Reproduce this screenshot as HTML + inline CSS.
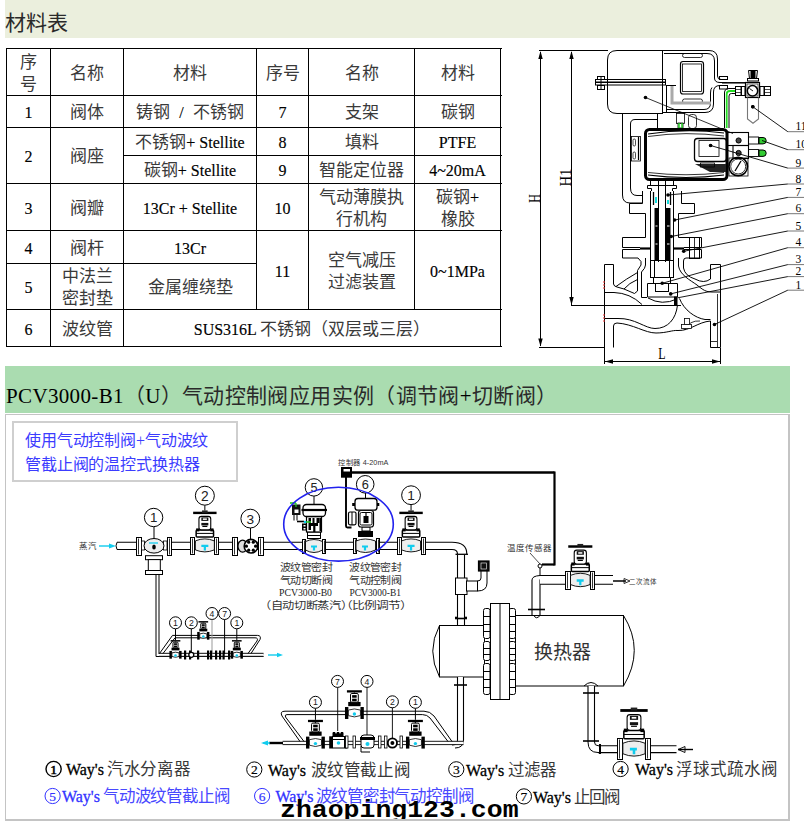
<!DOCTYPE html>
<html lang="zh-CN"><head><meta charset="utf-8">
<style>
*{margin:0;padding:0;box-sizing:border-box}
html,body{width:804px;height:830px;background:#fff;overflow:hidden}
body{position:relative;font-family:"Liberation Serif",serif;color:#000}
.a{position:absolute}
.bar1{left:5px;top:0;width:785px;height:38px;background:#ebefdd}
.zt{font-weight:normal;color:#2a2a2a}
.bar1 span{color:#2a2a2a;position:absolute;left:0px;top:10.5px;font-size:21px;line-height:24px}
.hl{position:absolute;height:1px;background:#000}
.vl{position:absolute;width:1px;background:#000}
.c{position:absolute;display:flex;align-items:center;justify-content:center;text-align:center;font-size:16px;line-height:22px;padding-top:3px;-webkit-text-stroke:0.15px #000}
.z{font-size:17px;color:#3a3a3a;-webkit-text-stroke:0}
.bar2{left:5px;top:366px;width:785px;height:47px;background:#aadcb0}
.bar2 span{position:absolute;left:1px;top:18px;font-size:21px;line-height:24px;white-space:nowrap;letter-spacing:0.35px}
.box{left:5px;top:414px;width:785px;height:407px;border:1px solid #c4c4c4;border-right-width:2px;border-bottom-width:2px;overflow:hidden}
.ibox{left:12px;top:421px;width:226px;height:61px;border:2px solid #cfcfcf}
.ibox div{position:absolute;left:11px;font-size:16px;color:#3c3cff;letter-spacing:-0.15px;white-space:nowrap;line-height:20px}
.lg{position:absolute;font-size:16px;white-space:nowrap;line-height:20px}
.wm{position:absolute;z-index:5;left:274px;top:381.7px;transform:scaleY(0.9);transform-origin:0 0;font-family:"Liberation Mono",monospace;font-weight:bold;font-size:26.5px;line-height:30px;white-space:nowrap;color:#000}
</style></head><body>
<div class="a bar1"><span>材料表</span></div>

<div class="c" style="left:6px;top:48px;width:45px;height:48px"><div><span class="z">序</span><br><span class="z">号</span></div></div>
<div class="c" style="left:50px;top:48px;width:74px;height:48px"><div><span class="z">名称</span></div></div>
<div class="c" style="left:123px;top:48px;width:134px;height:48px"><div><span class="z">材料</span></div></div>
<div class="c" style="left:256px;top:48px;width:53px;height:48px"><div><span class="z">序号</span></div></div>
<div class="c" style="left:308px;top:48px;width:107px;height:48px"><div><span class="z">名称</span></div></div>
<div class="c" style="left:414px;top:48px;width:87px;height:48px"><div><span class="z">材料</span></div></div>
<div class="c" style="left:6px;top:95px;width:45px;height:33px"><div>1</div></div>
<div class="c" style="left:50px;top:95px;width:74px;height:33px"><div><span class="z">阀体</span></div></div>
<div class="c" style="left:123px;top:95px;width:134px;height:33px"><div><span class="z">铸钢</span><span style="display:inline-block;width:23px">/</span><span class="z">不锈钢</span></div></div>
<div class="c" style="left:256px;top:95px;width:53px;height:33px"><div>7</div></div>
<div class="c" style="left:308px;top:95px;width:107px;height:33px"><div><span class="z">支架</span></div></div>
<div class="c" style="left:414px;top:95px;width:87px;height:33px"><div><span class="z">碳钢</span></div></div>
<div class="c" style="left:6px;top:127px;width:45px;height:57px"><div>2</div></div>
<div class="c" style="left:50px;top:127px;width:74px;height:57px"><div><span class="z">阀座</span></div></div>
<div class="c" style="left:123px;top:127px;width:134px;height:29px"><div><span class="z">不锈钢</span>+ Stellite</div></div>
<div class="c" style="left:256px;top:127px;width:53px;height:29px"><div>8</div></div>
<div class="c" style="left:308px;top:127px;width:107px;height:29px"><div><span class="z">填料</span></div></div>
<div class="c" style="left:414px;top:127px;width:87px;height:29px"><div>PTFE</div></div>
<div class="c" style="left:123px;top:155px;width:134px;height:29px"><div><span class="z">碳钢</span>+ Stellite</div></div>
<div class="c" style="left:256px;top:155px;width:53px;height:29px"><div>9</div></div>
<div class="c" style="left:308px;top:155px;width:107px;height:29px"><div><span class="z">智能定位器</span></div></div>
<div class="c" style="left:414px;top:155px;width:87px;height:29px"><div>4~20mA</div></div>
<div class="c" style="left:6px;top:183px;width:45px;height:48px"><div>3</div></div>
<div class="c" style="left:50px;top:183px;width:74px;height:48px"><div><span class="z">阀瓣</span></div></div>
<div class="c" style="left:123px;top:183px;width:134px;height:48px"><div>13Cr + Stellite</div></div>
<div class="c" style="left:256px;top:183px;width:53px;height:48px"><div>10</div></div>
<div class="c" style="left:308px;top:183px;width:107px;height:48px"><div><span class="z">气动薄膜执</span><br><span class="z">行机构</span></div></div>
<div class="c" style="left:414px;top:183px;width:87px;height:48px"><div><span class="z">碳钢</span>+<br><span class="z">橡胶</span></div></div>
<div class="c" style="left:6px;top:230px;width:45px;height:34px"><div>4</div></div>
<div class="c" style="left:50px;top:230px;width:74px;height:34px"><div><span class="z">阀杆</span></div></div>
<div class="c" style="left:123px;top:230px;width:134px;height:34px"><div>13Cr</div></div>
<div class="c" style="left:256px;top:230px;width:53px;height:80px"><div>11</div></div>
<div class="c" style="left:308px;top:230px;width:107px;height:80px"><div><span class="z">空气减压</span><br><span class="z">过滤装置</span></div></div>
<div class="c" style="left:414px;top:230px;width:87px;height:80px"><div>0~1MPa</div></div>
<div class="c" style="left:6px;top:263px;width:45px;height:47px"><div>5</div></div>
<div class="c" style="left:50px;top:263px;width:74px;height:47px"><div><span class="z">中法兰</span><br><span class="z">密封垫</span></div></div>
<div class="c" style="left:123px;top:263px;width:134px;height:47px"><div><span class="z">金属缠绕垫</span></div></div>
<div class="c" style="left:6px;top:309px;width:45px;height:38px"><div>6</div></div>
<div class="c" style="left:50px;top:309px;width:74px;height:38px"><div><span class="z">波纹管</span></div></div>
<div class="c" style="left:123px;top:309px;width:378px;height:38px"><div>SUS316L <span class="z">不锈钢（双层或三层）</span></div></div>
<div class="hl" style="left:6px;top:48px;width:496px"></div>
<div class="hl" style="left:6px;top:95px;width:496px"></div>
<div class="hl" style="left:6px;top:127px;width:496px"></div>
<div class="hl" style="left:123px;top:155px;width:379px"></div>
<div class="hl" style="left:6px;top:183px;width:496px"></div>
<div class="hl" style="left:6px;top:230px;width:496px"></div>
<div class="hl" style="left:6px;top:263px;width:251px"></div>
<div class="hl" style="left:6px;top:309px;width:496px"></div>
<div class="hl" style="left:6px;top:346px;width:496px"></div>
<div class="vl" style="left:6px;top:48px;height:299px"></div>
<div class="vl" style="left:50px;top:48px;height:299px"></div>
<div class="vl" style="left:123px;top:48px;height:299px"></div>
<div class="vl" style="left:256px;top:48px;height:262px"></div>
<div class="vl" style="left:308px;top:48px;height:262px"></div>
<div class="vl" style="left:414px;top:48px;height:262px"></div>
<div class="vl" style="left:500px;top:48px;height:299px"></div>
<div class="a bar2"><span>PCV3000-B1<b class="zt">（</b>U<b class="zt">）气动控制阀应用实例（调节阀</b>+<b class="zt">切断阀）</b></span></div>
<div class="a box"><div class="wm">zhaoping123.com</div></div>
<div class="a ibox"><div style="top:7.5px">使用气动控制阀+气动波纹</div><div style="top:32px">管截止阀的温控式换热器</div></div>
<svg class="a" style="left:0;top:0" width="804" height="830" viewBox="0 0 804 830"><line x1="539" y1="50.5" x2="608" y2="50.5" stroke="#000" stroke-width="1" />
<line x1="540.5" y1="52" x2="540.5" y2="346" stroke="#000" stroke-width="1" />
<path d="M540.5,51 L542.70,59.00 L538.30,59.00Z" fill="#000"/>
<path d="M540.5,346.5 L538.30,338.50 L542.70,338.50Z" fill="#000"/>
<line x1="571.5" y1="52" x2="571.5" y2="305" stroke="#000" stroke-width="1" />
<path d="M571.5,51 L573.70,59.00 L569.30,59.00Z" fill="#000"/>
<path d="M571.5,305 L569.30,297.00 L573.70,297.00Z" fill="#000"/>
<line x1="571" y1="305.5" x2="681" y2="305.5" stroke="#000" stroke-width="1" />
<line x1="539" y1="347.5" x2="605" y2="347.5" stroke="#000" stroke-width="1" />
<line x1="604.5" y1="348" x2="604.5" y2="364" stroke="#000" stroke-width="1" />
<line x1="720.5" y1="348" x2="720.5" y2="364" stroke="#000" stroke-width="1" />
<line x1="605" y1="361.5" x2="720" y2="361.5" stroke="#000" stroke-width="1" />
<path d="M605,361.5 L613.00,359.30 L613.00,363.70Z" fill="#000"/>
<path d="M720,361.5 L712.00,363.70 L712.00,359.30Z" fill="#000"/>
<text x="0" y="0" font-family="Liberation Serif" font-size="16" text-anchor="middle" fill="#000" transform="translate(539.5,198.5) rotate(-90) scale(0.75,1)">H</text>
<text x="0" y="0" font-family="Liberation Serif" font-size="16" text-anchor="middle" fill="#000" transform="translate(570.5,177.6) rotate(-90) scale(0.92,1)">H1</text>
<text x="662" y="359.5" font-family="Liberation Serif" font-size="16" text-anchor="middle" fill="#000" transform="translate(165.5,0) scale(0.75,1)">L</text>
<path d="M662,50.5 H617 Q607.5,50.5 607.5,60 V104 Q607.5,113.5 617,113.5 H662" stroke="#000" stroke-width="1" fill="none" />
<line x1="662.5" y1="50" x2="662.5" y2="114" stroke="#000" stroke-width="1" />
<rect x="595.5" y="79.5" width="70" height="2.5" stroke="#000" stroke-width="1" fill="none" rx="0" />
<rect x="595.5" y="82.5" width="70" height="2.5" stroke="#000" stroke-width="1" fill="none" rx="0" />
<rect x="597.5" y="76.5" width="7" height="3" stroke="#000" stroke-width="1" fill="none" rx="0" />
<rect x="597.5" y="85.5" width="7" height="4" stroke="#000" stroke-width="1" fill="none" rx="0" />
<line x1="601" y1="76" x2="601" y2="90" stroke="#000" stroke-width="1" />
<path d="M662,50.5 H709 Q717.5,50.5 717.5,59 V76 Q717.5,79.5 721,79.5 H727 M727,85.5 H720 Q713.5,85.5 713.5,92 V104 Q713.5,112.5 705,112.5 H662" stroke="#000" stroke-width="1" fill="none" />
<path d="M664,53.5 H707 Q714.5,53.5 714.5,61 V78 Q714.5,82.5 720,82.5 H727 M712,87.5 Q710.5,89 710.5,93 V103 Q710.5,109.5 704,109.5 H666" stroke="#000" stroke-width="1" fill="none" />
<rect x="719.5" y="76.5" width="8" height="3" stroke="#000" stroke-width="1" fill="none" rx="0" />
<rect x="719.5" y="85.5" width="8" height="3.5" stroke="#000" stroke-width="1" fill="none" rx="0" />
<rect x="680.5" y="61.5" width="23" height="32.5" stroke="#000" stroke-width="1.2" fill="none" rx="2.5" />
<rect x="682.5" y="64" width="19" height="27.5" stroke="#000" stroke-width="0.8" fill="none" rx="0" />
<rect x="682.5" y="53.5" width="20" height="4" stroke="#000" stroke-width="0.8" fill="none" rx="2" />
<rect x="682.5" y="99" width="20" height="4" stroke="#000" stroke-width="0.8" fill="none" rx="2" />
<path d="M672,86 V103 H711" stroke="#aaa" stroke-width="3" fill="none" />
<line x1="666" y1="85.5" x2="676" y2="85.5" stroke="#000" stroke-width="1" />
<line x1="666.5" y1="86" x2="666.5" y2="112" stroke="#000" stroke-width="1" />
<circle cx="645.5" cy="97.5" r="1.8" stroke="#000" stroke-width="0" fill="#000"/>
<line x1="645.5" y1="97.5" x2="733" y2="133.5" stroke="#000" stroke-width="0.8" />
<path d="M622.5,113.5 V195 Q622.5,203 630,203 H642" stroke="#000" stroke-width="1" fill="none" />
<path d="M635,119.5 H657.5 M630.5,124 Q630.5,119.5 635,119.5 M630.5,124 V188 Q630.5,195.5 637,195.5 H642.5" stroke="#000" stroke-width="1" fill="none" />
<line x1="657.5" y1="113.5" x2="657.5" y2="128" stroke="#000" stroke-width="1" />
<rect x="676.5" y="113.5" width="8" height="10" stroke="#000" stroke-width="0.8" fill="none" rx="0" />
<rect x="678" y="123" width="5" height="5" stroke="#000" stroke-width="0.8" fill="none" rx="0" />
<line x1="679" y1="123" x2="679" y2="128" stroke="#2c2" stroke-width="1.5" />
<line x1="682" y1="123" x2="682" y2="128" stroke="#2c2" stroke-width="1.5" />
<rect x="688.5" y="114.5" width="8" height="14" stroke="#000" stroke-width="0.8" fill="none" rx="3" />
<rect x="631.5" y="136.5" width="9" height="24.5" stroke="#000" stroke-width="0.8" fill="none" rx="0" />
<rect x="633" y="139" width="2.5" height="7" stroke="#000" stroke-width="0.7" fill="none" rx="1.2" />
<rect x="633" y="152" width="2.5" height="7" stroke="#000" stroke-width="0.7" fill="none" rx="1.2" />
<line x1="638.5" y1="137" x2="638.5" y2="160" stroke="#000" stroke-width="1.2" />
<rect x="645.5" y="129.5" width="81.5" height="50" stroke="#000" stroke-width="3" fill="none" rx="4" />
<path d="M648,134 Q686,128 724,133" stroke="#000" stroke-width="1.2" fill="none" />
<path d="M648,175 Q686,180 724,175" stroke="#000" stroke-width="1.2" fill="none" />
<path d="M648,136.5 Q686,131 724,136" stroke="#000" stroke-width="0.8" fill="none" />
<path d="M648,172.5 Q686,177 724,172.5" stroke="#000" stroke-width="0.8" fill="none" />
<rect x="694.5" y="138.5" width="32" height="23" stroke="#000" stroke-width="1.3" fill="none" rx="3" />
<rect x="699" y="140.5" width="20" height="16" stroke="#000" stroke-width="0.8" fill="none" rx="0" />
<circle cx="710.6" cy="145.5" r="1.6" stroke="#000" stroke-width="0" fill="#000"/>
<path d="M695,164 L726,164 L726,172 L710,172 Z" stroke="#000" stroke-width="0" fill="#222" />
<rect x="700.5" y="163" width="14" height="4" stroke="#000" stroke-width="0.8" fill="none" rx="0" />
<rect x="727.5" y="132.5" width="21" height="13" stroke="#000" stroke-width="1.1" fill="none" rx="0" />
<rect x="733" y="145.5" width="15.5" height="13" stroke="#000" stroke-width="1.1" fill="none" rx="0" />
<circle cx="738.6" cy="140.5" r="2.6" stroke="#000" stroke-width="1" fill="#444"/>
<circle cx="738.6" cy="153" r="2.6" stroke="#000" stroke-width="1" fill="#444"/>
<rect x="748.5" y="137" width="10" height="7" stroke="#000" stroke-width="0.9" fill="none" rx="0" />
<rect x="748.5" y="149.5" width="10" height="7" stroke="#000" stroke-width="0.9" fill="none" rx="0" />
<path d="M759,137.5 h4 a3.2,3.2 0 0 1 0,6.4 h-4 z" stroke="#000" stroke-width="1" fill="#3c3" />
<path d="M759,150 h4 a3.2,3.2 0 0 1 0,6.4 h-4 z" stroke="#000" stroke-width="1" fill="#3c3" />
<circle cx="738.2" cy="166.5" r="9.3" stroke="#000" stroke-width="1.6" fill="none"/>
<circle cx="738.2" cy="166.5" r="7.5" stroke="#000" stroke-width="0.8" fill="none"/>
<line x1="735" y1="171" x2="741" y2="161" stroke="#000" stroke-width="1.3" />
<rect x="729" y="158" width="19" height="18" stroke="#000" stroke-width="0.8" fill="none" rx="0" />
<path d="M724.5,128 V93 Q724.5,88.5 729,88.5 H735.5" stroke="#000" stroke-width="1" fill="none" />
<path d="M729,128 V96 Q729,93.5 731.5,93.5 H735.5" stroke="#000" stroke-width="1" fill="none" />
<path d="M726.7,128 V94 Q726.7,91 730,91 H735.5" stroke="#2d2" stroke-width="1.8" fill="none" />
<line x1="722" y1="82.8" x2="746" y2="82.8" stroke="#000" stroke-width="1.5" />
<rect x="735.5" y="86.5" width="5.5" height="9" stroke="#000" stroke-width="1" fill="#fff" rx="0" />
<line x1="735.5" y1="89.5" x2="741" y2="89.5" stroke="#000" stroke-width="0.7" />
<line x1="735.5" y1="92.5" x2="741" y2="92.5" stroke="#000" stroke-width="0.7" />
<rect x="741.5" y="86.5" width="3.5" height="9" stroke="#000" stroke-width="1" fill="#fff" rx="0" />
<rect x="745.5" y="82.5" width="14" height="15" stroke="#000" stroke-width="1.2" fill="#fff" rx="0" />
<rect x="747" y="84" width="11" height="12" stroke="#000" stroke-width="0.6" fill="none" rx="0" />
<circle cx="752.5" cy="90.8" r="5.2" stroke="#000" stroke-width="1.5" fill="#fff"/>
<line x1="749.5" y1="88.5" x2="753" y2="91" stroke="#000" stroke-width="0.9" />
<rect x="760" y="86.5" width="4" height="9" stroke="#000" stroke-width="1" fill="#fff" rx="0" />
<rect x="764.5" y="86.5" width="6" height="9" stroke="#000" stroke-width="1" fill="#fff" rx="0" />
<line x1="764.5" y1="89.5" x2="770.5" y2="89.5" stroke="#000" stroke-width="0.7" />
<line x1="764.5" y1="92.5" x2="770.5" y2="92.5" stroke="#000" stroke-width="0.7" />
<path d="M748.5,70.5 H757.5 L756.5,78.5 H749.5 Z" stroke="#000" stroke-width="1" fill="#fff" />
<rect x="750.5" y="70.5" width="5" height="8" stroke="#000" stroke-width="0" fill="#000" rx="0" />
<rect x="747.5" y="78.5" width="11" height="2.5" stroke="#000" stroke-width="1" fill="#fff" rx="0" />
<path d="M747.5,97.6 V119 L753,123.3 L758.5,119 V97.6" stroke="#777" stroke-width="1.1" fill="none" />
<circle cx="752.8" cy="106.8" r="1.7" stroke="#000" stroke-width="0" fill="#000"/>
<path d="M647.5,185.5 H676.5 V188.5 H672.5 V191 M647.5,185.5 V188.5 H651.5 V191" stroke="#000" stroke-width="1" fill="none" />
<line x1="650.5" y1="180" x2="650.5" y2="185" stroke="#000" stroke-width="1" />
<line x1="673.5" y1="180" x2="673.5" y2="185" stroke="#000" stroke-width="1" />
<line x1="658.5" y1="180" x2="658.5" y2="262" stroke="#000" stroke-width="1" />
<line x1="665.5" y1="180" x2="665.5" y2="262" stroke="#000" stroke-width="1" />
<path d="M642.5,191 L642.5,203.5 L629.5,203.5 L629.5,213.5 L645.5,213.5 L645.5,237.5 L622.5,237.5 L622.5,247.5 L640,247.5" stroke="#000" stroke-width="1" fill="none" />
<path d="M681.5,191 L681.5,203.5 L694.5,203.5 L694.5,213.5 L678.5,213.5 L678.5,237.5 L701.5,237.5 L701.5,247.5 L684,247.5" stroke="#000" stroke-width="1" fill="none" />
<path d="M640,249.5 L622.5,249.5 L622.5,258 L638,258 L641,261.5 L641,265 L637.5,270.5 L637.5,291 L634.5,293.5 L624,289" stroke="#000" stroke-width="1" fill="none" />
<path d="M684,249.5 H701.5 V258 H686 Q683.5,258 683.5,261 V268 Q685,276 695,279 Q704,284 710.5,279" stroke="#000" stroke-width="1" fill="none" />
<line x1="640" y1="248.5" x2="650" y2="248.5" stroke="#000" stroke-width="2.2" />
<line x1="674" y1="248.5" x2="684" y2="248.5" stroke="#000" stroke-width="2.2" />
<rect x="689.5" y="237.5" width="10" height="21" stroke="#000" stroke-width="1" fill="none" rx="0" />
<line x1="694.5" y1="237.5" x2="694.5" y2="258.5" stroke="#000" stroke-width="0.8" />
<line x1="689.5" y1="247.5" x2="699.5" y2="247.5" stroke="#000" stroke-width="1" />
<line x1="650.5" y1="191" x2="650.5" y2="262" stroke="#000" stroke-width="1" />
<line x1="673.5" y1="191" x2="673.5" y2="262" stroke="#000" stroke-width="1" />
<rect x="654.5" y="208" width="4" height="52" stroke="#000" stroke-width="0" fill="#000" rx="0" />
<rect x="666" y="208" width="4.5" height="52" stroke="#000" stroke-width="0" fill="#000" rx="0" />
<line x1="655.5" y1="226" x2="657.5" y2="226" stroke="#fff" stroke-width="1" />
<line x1="667" y1="226" x2="669.5" y2="226" stroke="#fff" stroke-width="1" />
<line x1="655.5" y1="244" x2="657.5" y2="244" stroke="#fff" stroke-width="1" />
<line x1="667" y1="244" x2="669.5" y2="244" stroke="#fff" stroke-width="1" />
<rect x="655" y="197" width="2" height="6" stroke="#000" stroke-width="0" fill="#1dd" rx="0" />
<rect x="667" y="200" width="2" height="4" stroke="#000" stroke-width="0" fill="#1dd" rx="0" />
<line x1="653.5" y1="192" x2="653.5" y2="205" stroke="#000" stroke-width="1.3" />
<line x1="670.5" y1="192" x2="670.5" y2="205" stroke="#000" stroke-width="1.3" />
<path d="M645.5,258 V265 Q645.5,268 641.5,272 V297.5 H647" stroke="#000" stroke-width="1" fill="none" />
<path d="M678.5,258 V266 C680,275 690,280 697,285 C703,290 706,292 712,292 H720" stroke="#000" stroke-width="1" fill="none" />
<rect x="650.5" y="260.5" width="23" height="17" stroke="#000" stroke-width="1" fill="none" rx="0" />
<line x1="654.5" y1="260.5" x2="654.5" y2="277" stroke="#000" stroke-width="1" />
<line x1="669.5" y1="260.5" x2="669.5" y2="277" stroke="#000" stroke-width="1" />
<rect x="653.5" y="277.5" width="17" height="6" stroke="#000" stroke-width="1" fill="none" rx="0" />
<path d="M647.5,283.5 H677.5 V297 H647.5 Z" stroke="#000" stroke-width="1" fill="none" />
<rect x="655.5" y="283.5" width="13" height="8" stroke="#000" stroke-width="1" fill="none" rx="0" />
<rect x="674" y="296.5" width="3.5" height="9.5" stroke="#000" stroke-width="0" fill="#000" rx="0" />
<path d="M648,298 Q662,306 677,299" stroke="#000" stroke-width="1" fill="none" />
<path d="M604.5,347.5 V264.5 H613.5 V284 Q614,286.5 617,287 L624,289" stroke="#000" stroke-width="1" fill="none" />
<path d="M616,286.5 Q626,279 637.5,272.5" stroke="#000" stroke-width="1" fill="none" />
<path d="M624,289 Q629,283 637.5,279.5" stroke="#000" stroke-width="1" fill="none" />
<path d="M604.5,292.5 H614 Q630,293 642,304.5" stroke="#000" stroke-width="1" fill="none" />
<path d="M604.5,318.5 H618 C635,318 645,328.5 655,328.5 C668,328.5 676,319 677.5,305" stroke="#000" stroke-width="1" fill="none" />
<path d="M613.5,347.5 V326 Q613.5,323 617,323 C633,324 645,333 656,333 C667,333 672,330 678,330.5 C690,331 698,322 710.5,321" stroke="#000" stroke-width="1" fill="none" />
<path d="M679.5,298.5 C684,310 695,318 705,319.5 H710.5" stroke="#000" stroke-width="1" fill="none" />
<path d="M684,330 Q690,320 700,321" stroke="#000" stroke-width="0.8" fill="none" />
<rect x="684.5" y="318.5" width="5" height="6" stroke="#000" stroke-width="0.8" fill="#fff" rx="0" />
<rect x="681.5" y="324.5" width="10" height="4" stroke="#000" stroke-width="0.8" fill="#fff" rx="0" />
<path d="M710.5,279 V264.5 H720.5 V347.5 H710.5 V321" stroke="#000" stroke-width="1" fill="none" />
<line x1="717.5" y1="294" x2="717.5" y2="347" stroke="#000" stroke-width="0.8" />
<line x1="711" y1="341.5" x2="717" y2="341.5" stroke="#000" stroke-width="0.8" />
<line x1="603" y1="282" x2="605" y2="282" stroke="#e33" stroke-width="1" />
<line x1="603" y1="285" x2="605" y2="285" stroke="#e33" stroke-width="1" />
<line x1="603" y1="288" x2="605" y2="288" stroke="#e33" stroke-width="1" />
<line x1="603" y1="315" x2="605" y2="315" stroke="#e33" stroke-width="1" />
<line x1="603" y1="318" x2="605" y2="318" stroke="#e33" stroke-width="1" />
<line x1="603" y1="321" x2="605" y2="321" stroke="#e33" stroke-width="1" />
<line x1="787.8" y1="131.7" x2="804" y2="131.7" stroke="#777" stroke-width="1" />
<line x1="752.8" y1="106.8" x2="787.8" y2="131.7" stroke="#000" stroke-width="0.9" />
<text x="795.5" y="130.2" font-family="Liberation Serif" font-size="11.5" text-anchor="start" fill="#000" >11</text>
<line x1="787.8" y1="149.7" x2="804" y2="149.7" stroke="#777" stroke-width="1" />
<line x1="762" y1="140.5" x2="787.8" y2="149.7" stroke="#000" stroke-width="0.9" />
<text x="795.5" y="148.2" font-family="Liberation Serif" font-size="11.5" text-anchor="start" fill="#000" >10</text>
<line x1="787.8" y1="168.1" x2="804" y2="168.1" stroke="#777" stroke-width="1" />
<line x1="710.6" y1="145.5" x2="787.8" y2="168.1" stroke="#000" stroke-width="0.9" />
<text x="795.5" y="166.6" font-family="Liberation Serif" font-size="11.5" text-anchor="start" fill="#000" >9</text>
<line x1="787.8" y1="184" x2="804" y2="184" stroke="#777" stroke-width="1" />
<line x1="668" y1="195" x2="787.8" y2="184" stroke="#000" stroke-width="0.9" />
<text x="795.5" y="182.5" font-family="Liberation Serif" font-size="11.5" text-anchor="start" fill="#000" >8</text>
<line x1="787.8" y1="197.4" x2="804" y2="197.4" stroke="#777" stroke-width="1" />
<line x1="674.6" y1="220" x2="787.8" y2="197.4" stroke="#000" stroke-width="0.9" />
<text x="795.5" y="195.9" font-family="Liberation Serif" font-size="11.5" text-anchor="start" fill="#000" >7</text>
<line x1="787.8" y1="213.7" x2="804" y2="213.7" stroke="#777" stroke-width="1" />
<line x1="671.2" y1="236.5" x2="787.8" y2="213.7" stroke="#000" stroke-width="0.9" />
<text x="795.5" y="212.2" font-family="Liberation Serif" font-size="11.5" text-anchor="start" fill="#000" >6</text>
<line x1="787.8" y1="231" x2="804" y2="231" stroke="#777" stroke-width="1" />
<line x1="683.7" y1="251.3" x2="787.8" y2="231" stroke="#000" stroke-width="0.9" />
<text x="795.5" y="229.5" font-family="Liberation Serif" font-size="11.5" text-anchor="start" fill="#000" >5</text>
<line x1="787.8" y1="247.7" x2="804" y2="247.7" stroke="#777" stroke-width="1" />
<line x1="662.2" y1="283.3" x2="787.8" y2="247.7" stroke="#000" stroke-width="0.9" />
<text x="795.5" y="246.2" font-family="Liberation Serif" font-size="11.5" text-anchor="start" fill="#000" >4</text>
<line x1="787.8" y1="264.6" x2="804" y2="264.6" stroke="#777" stroke-width="1" />
<line x1="670.7" y1="293.9" x2="787.8" y2="264.6" stroke="#000" stroke-width="0.9" />
<text x="795.5" y="263.1" font-family="Liberation Serif" font-size="11.5" text-anchor="start" fill="#000" >3</text>
<line x1="787.8" y1="276.6" x2="804" y2="276.6" stroke="#777" stroke-width="1" />
<line x1="677.7" y1="297.8" x2="787.8" y2="276.6" stroke="#000" stroke-width="0.9" />
<text x="795.5" y="275.1" font-family="Liberation Serif" font-size="11.5" text-anchor="start" fill="#000" >2</text>
<line x1="787.8" y1="290.2" x2="804" y2="290.2" stroke="#777" stroke-width="1" />
<line x1="714.5" y1="324.5" x2="787.8" y2="290.2" stroke="#000" stroke-width="0.9" />
<text x="795.5" y="288.7" font-family="Liberation Serif" font-size="11.5" text-anchor="start" fill="#000" >1</text>
<circle cx="752.8" cy="106.8" r="1.8" stroke="#000" stroke-width="0" fill="#000"/>
<circle cx="710.6" cy="145.5" r="1.8" stroke="#000" stroke-width="0" fill="#000"/>
<circle cx="668" cy="195" r="1.8" stroke="#000" stroke-width="0" fill="#000"/>
<circle cx="674.6" cy="220" r="1.8" stroke="#000" stroke-width="0" fill="#000"/>
<circle cx="671.2" cy="236.5" r="1.8" stroke="#000" stroke-width="0" fill="#000"/>
<circle cx="683.7" cy="251.3" r="1.8" stroke="#000" stroke-width="0" fill="#000"/>
<circle cx="662.2" cy="283.3" r="1.8" stroke="#000" stroke-width="0" fill="#000"/>
<circle cx="670.7" cy="293.9" r="1.8" stroke="#000" stroke-width="0" fill="#000"/>
<circle cx="714.5" cy="324.5" r="1.8" stroke="#000" stroke-width="0" fill="#000"/>
<rect x="341" y="467" width="11" height="10.7" stroke="#000" stroke-width="0" fill="#000" rx="0" />
<rect x="343.5" y="469" width="6.5" height="2.5" stroke="#000" stroke-width="0" fill="#fff" rx="0" />
<text x="338.3" y="464.8" font-family="Liberation Sans" font-size="6.8" text-anchor="start" fill="#333" textLength="50" lengthAdjust="spacingAndGlyphs">控制器 4-20mA</text>
<line x1="352" y1="472.5" x2="554.5" y2="472.5" stroke="#000" stroke-width="2.3" />
<line x1="554.5" y1="471.5" x2="554.5" y2="565.5" stroke="#000" stroke-width="2.2" />
<line x1="554.5" y1="564.5" x2="542" y2="564.5" stroke="#000" stroke-width="2.2" />
<path d="M346,477 V526 Q346,527.5 347.5,527.5 H351.5" stroke="#000" stroke-width="1.9" fill="none" />
<rect x="117" y="542.3" width="335" height="7.2000000000000455" fill="#fff"/>
<line x1="117" y1="542.3" x2="452" y2="542.3" stroke="#000" stroke-width="1.1" />
<line x1="117" y1="549.5" x2="452" y2="549.5" stroke="#000" stroke-width="1.1" />
<path d="M117,542.3 q-2,3.5 0,7.2" stroke="#000" fill="none" stroke-width="1"/>
<line x1="99" y1="546" x2="111" y2="546" stroke="#1ce" stroke-width="1.4" />
<path d="M116,546 L109,543.5 L109,548.5Z" fill="#1ce"/>
<text x="88" y="549" font-family="Liberation Sans" font-size="8.5" text-anchor="middle" fill="#333" >蒸汽</text>
<rect x="136.5" y="537.5" width="5" height="18" stroke="#000" stroke-width="1" fill="#fff" rx="0" />
<line x1="138.5" y1="538.5" x2="138.5" y2="554.5" stroke="#000" stroke-width="0.8" />
<rect x="167.5" y="537.5" width="4" height="18" stroke="#000" stroke-width="1" fill="#fff" rx="0" />
<line x1="169.5" y1="538.5" x2="169.5" y2="554.5" stroke="#000" stroke-width="0.8" />
<rect x="141.5" y="541" width="3" height="9" stroke="#000" stroke-width="0.8" fill="#fff" rx="0" />
<rect x="163.5" y="541" width="3.5" height="9" stroke="#000" stroke-width="0.8" fill="#fff" rx="0" />
<ellipse cx="154" cy="545.8" rx="10" ry="7.3" stroke="#000" stroke-width="1" fill="#eee"/>
<line x1="149" y1="543" x2="158" y2="543" stroke="#1ce" stroke-width="1.3" />
<ellipse cx="154" cy="547" rx="1.8" ry="2.5" fill="#000"/>
<rect x="145.5" y="555.7" width="17" height="4" stroke="#000" stroke-width="1" fill="#fff" rx="0" />
<rect x="148.3" y="559.6" width="12" height="11" stroke="#000" stroke-width="1" fill="#fff" rx="0" />
<rect x="145.5" y="570.5" width="17" height="4" stroke="#000" stroke-width="1" fill="#fff" rx="0" />
<line x1="154" y1="508" x2="154" y2="538.5" stroke="#000" stroke-width="1" />
<circle cx="153.6" cy="517.5" r="9.2" stroke="#000" stroke-width="1" fill="#fff"/>
<text x="153.6" y="522.3024" font-family="Liberation Sans" font-size="13.339999999999998" text-anchor="middle" fill="#222" >1</text>
<rect x="156" y="575" width="3" height="79" fill="#fff"/>
<line x1="156" y1="575" x2="156" y2="654" stroke="#000" stroke-width="1" />
<line x1="159" y1="575" x2="159" y2="654" stroke="#000" stroke-width="1" />
<rect x="190.5" y="537.5" width="4" height="17" stroke="#000" stroke-width="1" fill="#fff" rx="0" />
<line x1="192.5" y1="538.5" x2="192.5" y2="553.5" stroke="#000" stroke-width="0.8" />
<rect x="214.5" y="537.5" width="4" height="17" stroke="#000" stroke-width="1" fill="#fff" rx="0" />
<line x1="216.5" y1="538.5" x2="216.5" y2="553.5" stroke="#000" stroke-width="0.8" />
<path d="M195.35,540.9 Q204.85,536.9 214.35,540.9 V549.9 Q204.85,553.9 195.35,549.9 Z" stroke="#000" stroke-width="0.9" fill="#eee" />
<path d="M201.35,545.9 h7 M204.85,545.9 v4.5" stroke="#1ce" stroke-width="2.2"/>
<rect x="196.15" y="529.9" width="17.4" height="7.2" stroke="#000" stroke-width="1.5" fill="#fff" rx="1" />
<line x1="196.15" y1="533.4" x2="213.54999999999998" y2="533.4" stroke="#000" stroke-width="1" />
<rect x="196.15" y="528.4" width="3.2" height="3.0" stroke="#000" stroke-width="0" fill="#000" rx="0" />
<rect x="210.35" y="528.4" width="3.2" height="3.0" stroke="#000" stroke-width="0" fill="#000" rx="0" />
<rect x="198.95" y="516.4" width="11.8" height="13.5" stroke="#000" stroke-width="1.1" fill="#fff" rx="2.5" />
<rect x="201.35" y="517.4" width="7.0" height="3.5" stroke="#000" stroke-width="0" fill="#111" rx="0" />
<rect x="202.85" y="518.4" width="4.0" height="1.5" stroke="#000" stroke-width="0" fill="#fff" rx="0" />
<rect x="201.35" y="522.9" width="7.0" height="2.5" stroke="#000" stroke-width="0" fill="#111" rx="0" />
<line x1="202.35" y1="526.4" x2="207.35" y2="526.4" stroke="#000" stroke-width="1.2" />
<line x1="193.15" y1="512.9" x2="216.54999999999998" y2="512.9" stroke="#000" stroke-width="2.4" />
<rect x="202.04999999999998" y="510.4" width="5.6" height="2.5" stroke="#000" stroke-width="0" fill="#222" rx="0" />
<line x1="204.85" y1="505.2" x2="204.85" y2="510.4" stroke="#000" stroke-width="1" />
<circle cx="204.85" cy="495.7" r="9.5" stroke="#000" stroke-width="1" fill="#fff"/>
<text x="204.85" y="500.659" font-family="Liberation Sans" font-size="13.775" text-anchor="middle" fill="#222" >2</text>
<rect x="232.5" y="537.5" width="5" height="18" stroke="#000" stroke-width="1" fill="#fff" rx="0" />
<line x1="234.5" y1="538.5" x2="234.5" y2="554.5" stroke="#000" stroke-width="0.8" />
<rect x="258.5" y="537.5" width="5" height="18" stroke="#000" stroke-width="1" fill="#fff" rx="0" />
<line x1="260.5" y1="538.5" x2="260.5" y2="554.5" stroke="#000" stroke-width="0.8" />
<ellipse cx="242.6" cy="546.2" rx="4.6" ry="6" stroke="#000" stroke-width="1.2" fill="#ddd"/>
<circle cx="251" cy="546.2" r="6.8" stroke="#000" stroke-width="1.6" fill="#fff"/>
<circle cx="255.6" cy="546.2" r="1.6" stroke="#000" stroke-width="0" fill="#000"/>
<circle cx="253.3" cy="550.18" r="1.6" stroke="#000" stroke-width="0" fill="#000"/>
<circle cx="248.7" cy="550.18" r="1.6" stroke="#000" stroke-width="0" fill="#000"/>
<circle cx="246.4" cy="546.2" r="1.6" stroke="#000" stroke-width="0" fill="#000"/>
<circle cx="248.7" cy="542.22" r="1.6" stroke="#000" stroke-width="0" fill="#000"/>
<circle cx="253.3" cy="542.22" r="1.6" stroke="#000" stroke-width="0" fill="#000"/>
<line x1="250.5" y1="528" x2="250.5" y2="539.5" stroke="#000" stroke-width="1" />
<circle cx="250.3" cy="518.6" r="9.4" stroke="#000" stroke-width="1" fill="#fff"/>
<text x="250.3" y="523.5068" font-family="Liberation Sans" font-size="13.63" text-anchor="middle" fill="#222" >3</text>
<rect x="302.5" y="539.5" width="3" height="14" stroke="#000" stroke-width="1" fill="#fff" rx="0" />
<line x1="304.5" y1="540.5" x2="304.5" y2="552.5" stroke="#000" stroke-width="0.8" />
<rect x="322.5" y="539.5" width="3" height="14" stroke="#000" stroke-width="1" fill="#fff" rx="0" />
<line x1="324.5" y1="540.5" x2="324.5" y2="552.5" stroke="#000" stroke-width="0.8" />
<path d="M305.5,541.5 Q314,537.5 322.5,541.5 V550 Q314,555 305.5,550 Z" stroke="#000" stroke-width="0.9" fill="#eee" />
<path d="M311,546.5 h6 M314,546.5 v4" stroke="#1ce" stroke-width="2.2"/>
<rect x="307.5" y="532" width="13" height="6.5" stroke="#000" stroke-width="1" fill="#fff" rx="0" />
<line x1="307.5" y1="535.5" x2="320.5" y2="535.5" stroke="#000" stroke-width="1" />
<rect x="306.5" y="516.5" width="15" height="15.5" stroke="#000" stroke-width="1.2" fill="#fff" rx="0" />
<rect x="308.5" y="518" width="2.5" height="12" stroke="#000" stroke-width="0" fill="#000" rx="0" />
<rect x="312.5" y="518" width="2" height="6" stroke="#000" stroke-width="0" fill="#000" rx="0" />
<rect x="316.5" y="518" width="3" height="5" stroke="#000" stroke-width="0" fill="#000" rx="0" />
<rect x="311" y="523" width="7" height="3" stroke="#000" stroke-width="0" fill="#000" rx="0" />
<rect x="313.2" y="526" width="2.2" height="6" stroke="#000" stroke-width="0" fill="#000" rx="0" />
<rect x="319.5" y="518" width="1.5" height="13" stroke="#000" stroke-width="0" fill="#000" rx="0" />
<rect x="303" y="504.5" width="22.5" height="12" stroke="#000" stroke-width="1.3" fill="#fff" rx="3.5" />
<line x1="301.5" y1="510" x2="327" y2="510" stroke="#000" stroke-width="2.2" />
<rect x="292" y="504.5" width="8.5" height="10.5" stroke="#000" stroke-width="0" fill="#111" rx="0" />
<rect x="294.5" y="509.5" width="4" height="3.5" stroke="#000" stroke-width="0" fill="#fff" rx="0" />
<line x1="294" y1="515" x2="294" y2="520.5" stroke="#000" stroke-width="1" />
<line x1="297" y1="515" x2="297" y2="520.5" stroke="#000" stroke-width="1" />
<line x1="290" y1="503" x2="296" y2="503" stroke="#2c2" stroke-width="1.6" />
<line x1="296" y1="503" x2="296" y2="507" stroke="#2c2" stroke-width="1.2" />
<line x1="297" y1="521.5" x2="304" y2="521.5" stroke="#000" stroke-width="1.6" />
<line x1="305" y1="522" x2="311" y2="522" stroke="#2c2" stroke-width="1.5" />
<circle cx="305" cy="522" r="1.3" stroke="#000" stroke-width="0" fill="#1ce"/>
<rect x="302" y="523.5" width="4.5" height="7" stroke="#000" stroke-width="0" fill="#000" rx="0" />
<rect x="303.5" y="525" width="2" height="1.5" stroke="#000" stroke-width="0" fill="#fff" rx="0" />
<rect x="303.5" y="528" width="2" height="1.5" stroke="#000" stroke-width="0" fill="#fff" rx="0" />
<line x1="314" y1="496.1" x2="314" y2="504.5" stroke="#000" stroke-width="1" />
<circle cx="313.9" cy="487.4" r="8.7" stroke="#000" stroke-width="1" fill="#fff"/>
<text x="313.9" y="491.9414" font-family="Liberation Sans" font-size="12.614999999999998" text-anchor="middle" fill="#222" >5</text>
<rect x="353.5" y="538.5" width="3" height="15" stroke="#000" stroke-width="1" fill="#fff" rx="0" />
<line x1="355.5" y1="539.5" x2="355.5" y2="552.5" stroke="#000" stroke-width="0.8" />
<rect x="376.5" y="538.5" width="3" height="15" stroke="#000" stroke-width="1" fill="#fff" rx="0" />
<line x1="378.5" y1="539.5" x2="378.5" y2="552.5" stroke="#000" stroke-width="0.8" />
<path d="M356,541 Q365,537 375.5,541 V550 Q365,555 356,550 Z" stroke="#000" stroke-width="0.9" fill="#eee" />
<path d="M362,546.5 h6 M365,546.5 v4" stroke="#1ce" stroke-width="2.2"/>
<rect x="358" y="531" width="15" height="6" stroke="#000" stroke-width="0" fill="#000" rx="0" />
<rect x="362" y="527" width="8" height="4" stroke="#000" stroke-width="1" fill="#fff" rx="0" />
<rect x="358.5" y="510.5" width="15" height="16.5" stroke="#000" stroke-width="1.2" fill="#fff" rx="2.5" />
<rect x="360" y="512.5" width="12" height="12.5" stroke="#000" stroke-width="1" fill="#fff" rx="1.5" />
<rect x="363.5" y="516" width="5" height="7" stroke="#000" stroke-width="0" fill="#000" rx="0" />
<line x1="366" y1="512.5" x2="366" y2="516" stroke="#000" stroke-width="1.2" />
<rect x="348.5" y="512" width="7.5" height="12.8" stroke="#000" stroke-width="1.2" fill="#fff" rx="1.5" />
<line x1="352" y1="512" x2="352" y2="524.8" stroke="#000" stroke-width="1" />
<rect x="355" y="498.5" width="22" height="11.7" stroke="#000" stroke-width="1.3" fill="#fff" rx="3" />
<rect x="352.2" y="503" width="2.8" height="3" stroke="#000" stroke-width="0" fill="#000" rx="0" />
<rect x="377" y="503" width="2.3" height="3" stroke="#000" stroke-width="0" fill="#000" rx="0" />
<line x1="365.5" y1="493.1" x2="365.5" y2="498.5" stroke="#000" stroke-width="1" />
<circle cx="365.2" cy="484.3" r="8.8" stroke="#000" stroke-width="1" fill="#fff"/>
<text x="365.2" y="488.8936" font-family="Liberation Sans" font-size="12.76" text-anchor="middle" fill="#222" >6</text>
<ellipse cx="338.5" cy="524.2" rx="54.8" ry="36.9" stroke="#22e" stroke-width="1.6" fill="none"/>
<rect x="397.5" y="537.5" width="4" height="17" stroke="#000" stroke-width="1" fill="#fff" rx="0" />
<line x1="399.5" y1="538.5" x2="399.5" y2="553.5" stroke="#000" stroke-width="0.8" />
<rect x="421.5" y="537.5" width="4" height="17" stroke="#000" stroke-width="1" fill="#fff" rx="0" />
<line x1="423.5" y1="538.5" x2="423.5" y2="553.5" stroke="#000" stroke-width="0.8" />
<path d="M401.55,540.9 Q411.05,536.9 420.55,540.9 V549.9 Q411.05,553.9 401.55,549.9 Z" stroke="#000" stroke-width="0.9" fill="#eee" />
<path d="M407.55,545.9 h7 M411.05,545.9 v4.5" stroke="#1ce" stroke-width="2.2"/>
<rect x="402.35" y="529.9" width="17.4" height="7.2" stroke="#000" stroke-width="1.5" fill="#fff" rx="1" />
<line x1="402.35" y1="533.4" x2="419.75" y2="533.4" stroke="#000" stroke-width="1" />
<rect x="402.35" y="528.4" width="3.2" height="3.0" stroke="#000" stroke-width="0" fill="#000" rx="0" />
<rect x="416.55" y="528.4" width="3.2" height="3.0" stroke="#000" stroke-width="0" fill="#000" rx="0" />
<rect x="405.15000000000003" y="516.4" width="11.8" height="13.5" stroke="#000" stroke-width="1.1" fill="#fff" rx="2.5" />
<rect x="407.55" y="517.4" width="7.0" height="3.5" stroke="#000" stroke-width="0" fill="#111" rx="0" />
<rect x="409.05" y="518.4" width="4.0" height="1.5" stroke="#000" stroke-width="0" fill="#fff" rx="0" />
<rect x="407.55" y="522.9" width="7.0" height="2.5" stroke="#000" stroke-width="0" fill="#111" rx="0" />
<line x1="408.55" y1="526.4" x2="413.55" y2="526.4" stroke="#000" stroke-width="1.2" />
<line x1="399.35" y1="512.9" x2="422.75" y2="512.9" stroke="#000" stroke-width="2.4" />
<rect x="408.25" y="510.4" width="5.6" height="2.5" stroke="#000" stroke-width="0" fill="#222" rx="0" />
<line x1="411.05" y1="504.59999999999997" x2="411.05" y2="510.4" stroke="#000" stroke-width="1" />
<circle cx="411.05" cy="495.2" r="9.4" stroke="#000" stroke-width="1" fill="#fff"/>
<text x="411.05" y="500.10679999999996" font-family="Liberation Sans" font-size="13.63" text-anchor="middle" fill="#222" >1</text>
<path d="M452,542.3 Q466.8,542.3 466.8,554 M452,549.5 Q457.5,549.5 457.5,554" stroke="#000" stroke-width="1.1" fill="none" />
<line x1="455.5" y1="554.3" x2="468" y2="554.3" stroke="#000" stroke-width="1.3" />
<rect x="457.5" y="555" width="7.0" height="57" fill="#fff"/>
<line x1="457.5" y1="555" x2="457.5" y2="612" stroke="#000" stroke-width="1.1" />
<line x1="464.5" y1="555" x2="464.5" y2="612" stroke="#000" stroke-width="1.1" />
<rect x="455.5" y="578" width="11.5" height="16.5" stroke="#000" stroke-width="1" fill="#fff" rx="0" />
<rect x="466.5" y="581" width="11" height="10" stroke="#000" stroke-width="1" fill="#fff" rx="0" />
<path d="M477.5,591 Q487,591 487,583 V571 M477.5,581 Q481,581 481,578 V571" stroke="#000" stroke-width="1" fill="none" />
<rect x="478.5" y="561" width="10.5" height="10" stroke="#000" stroke-width="1.2" fill="#111" rx="0" />
<rect x="481" y="563" width="5.5" height="6" stroke="#fff" stroke-width="0.6" fill="none" rx="0" />
<line x1="455" y1="617.5" x2="467" y2="617.5" stroke="#000" stroke-width="1.6" />
<text x="279.5" y="570.7" font-family="Liberation Sans" font-size="10.5" text-anchor="start" fill="#333" textLength="52.5" lengthAdjust="spacingAndGlyphs">波纹管密封</text>
<text x="279.5" y="583.6" font-family="Liberation Sans" font-size="10.5" text-anchor="start" fill="#333" textLength="52.5" lengthAdjust="spacingAndGlyphs">气动切断阀</text>
<text x="279" y="596.3" font-family="Liberation Serif" font-size="10.5" text-anchor="start" fill="#222" textLength="53" lengthAdjust="spacingAndGlyphs">PCV3000-B0</text>
<text x="258.9" y="609.4" font-family="Liberation Sans" font-size="10.5" text-anchor="start" fill="#333" textLength="93.5" lengthAdjust="spacingAndGlyphs">（自动切断蒸汽）</text>
<text x="349.3" y="570.7" font-family="Liberation Sans" font-size="10.5" text-anchor="start" fill="#333" textLength="52" lengthAdjust="spacingAndGlyphs">波纹管密封</text>
<text x="349.3" y="583.6" font-family="Liberation Sans" font-size="10.5" text-anchor="start" fill="#333" textLength="52" lengthAdjust="spacingAndGlyphs">气动控制阀</text>
<text x="349.5" y="596.3" font-family="Liberation Serif" font-size="10.5" text-anchor="start" fill="#222" textLength="51.5" lengthAdjust="spacingAndGlyphs">PCV3000-B1</text>
<text x="339.6" y="609.4" font-family="Liberation Sans" font-size="10.5" text-anchor="start" fill="#333" textLength="73" lengthAdjust="spacingAndGlyphs">（比例调节）</text>
<path d="M439.5,625.5 Q426,651 439.5,677 Z" stroke="#000" stroke-width="1" fill="#fff" />
<rect x="439.5" y="625.5" width="45" height="51.5" stroke="#000" stroke-width="1" fill="#fff" rx="0" />
<path d="M623.5,615.5 Q645,650 623.5,686" stroke="#000" stroke-width="1" fill="#fff" />
<rect x="515.5" y="615.5" width="108" height="70.5" stroke="#000" stroke-width="1" fill="#fff" rx="0" />
<rect x="483.5" y="608.5" width="6.5" height="30.0" stroke="#000" stroke-width="1" fill="#fff" rx="2" />
<line x1="483.5" y1="616.5" x2="490" y2="616.5" stroke="#000" stroke-width="1" />
<line x1="483.5" y1="624.5" x2="490" y2="624.5" stroke="#000" stroke-width="1" />
<line x1="483.5" y1="631.5" x2="490" y2="631.5" stroke="#000" stroke-width="1" />
<rect x="509" y="608.5" width="6.5" height="30.0" stroke="#000" stroke-width="1" fill="#fff" rx="2" />
<line x1="509" y1="616.5" x2="515.5" y2="616.5" stroke="#000" stroke-width="1" />
<line x1="509" y1="624.5" x2="515.5" y2="624.5" stroke="#000" stroke-width="1" />
<line x1="509" y1="631.5" x2="515.5" y2="631.5" stroke="#000" stroke-width="1" />
<rect x="483.5" y="641.5" width="6.5" height="19.0" stroke="#000" stroke-width="1" fill="#fff" rx="2" />
<line x1="483.5" y1="648.5" x2="490" y2="648.5" stroke="#000" stroke-width="1" />
<line x1="483.5" y1="654.5" x2="490" y2="654.5" stroke="#000" stroke-width="1" />
<rect x="509" y="641.5" width="6.5" height="19.0" stroke="#000" stroke-width="1" fill="#fff" rx="2" />
<line x1="509" y1="648.5" x2="515.5" y2="648.5" stroke="#000" stroke-width="1" />
<line x1="509" y1="654.5" x2="515.5" y2="654.5" stroke="#000" stroke-width="1" />
<rect x="483.5" y="663.5" width="6.5" height="31.0" stroke="#000" stroke-width="1" fill="#fff" rx="2" />
<line x1="483.5" y1="671.5" x2="490" y2="671.5" stroke="#000" stroke-width="1" />
<line x1="483.5" y1="679.5" x2="490" y2="679.5" stroke="#000" stroke-width="1" />
<line x1="483.5" y1="687.5" x2="490" y2="687.5" stroke="#000" stroke-width="1" />
<rect x="509" y="663.5" width="6.5" height="31.0" stroke="#000" stroke-width="1" fill="#fff" rx="2" />
<line x1="509" y1="671.5" x2="515.5" y2="671.5" stroke="#000" stroke-width="1" />
<line x1="509" y1="679.5" x2="515.5" y2="679.5" stroke="#000" stroke-width="1" />
<line x1="509" y1="687.5" x2="515.5" y2="687.5" stroke="#000" stroke-width="1" />
<rect x="490.5" y="603.5" width="19" height="96" stroke="#000" stroke-width="1" fill="#fff" rx="0" />
<line x1="500" y1="603.5" x2="500" y2="699.5" stroke="#000" stroke-width="1" />
<text x="562" y="658.5" font-family="Liberation Serif" font-size="19" text-anchor="middle" fill="#333" >换热器</text>
<rect x="457.5" y="611" width="7.0" height="14" fill="#fff"/>
<line x1="457.5" y1="611" x2="457.5" y2="625" stroke="#000" stroke-width="1.1" />
<line x1="464.5" y1="611" x2="464.5" y2="625" stroke="#000" stroke-width="1.1" />
<line x1="455" y1="618.5" x2="467" y2="618.5" stroke="#000" stroke-width="1.6" />
<rect x="457.5" y="677" width="6.0" height="63" fill="#fff"/>
<line x1="457.5" y1="677" x2="457.5" y2="740" stroke="#000" stroke-width="1.1" />
<line x1="463.5" y1="677" x2="463.5" y2="740" stroke="#000" stroke-width="1.1" />
<line x1="454" y1="685" x2="467" y2="685" stroke="#000" stroke-width="1.6" />
<path d="M457.5,740 Q457.5,745 452,745 M463.5,740 Q463.5,748 455,748" stroke="#000" stroke-width="1" fill="none" />
<rect x="532" y="580" width="8" height="35" fill="#fff"/>
<line x1="532" y1="580" x2="532" y2="615" stroke="#000" stroke-width="1.1" />
<line x1="540" y1="580" x2="540" y2="615" stroke="#000" stroke-width="1.1" />
<line x1="528" y1="609.5" x2="545" y2="609.5" stroke="#000" stroke-width="1.6" />
<path d="M534,615.5 Q536,620 540,615.5" stroke="#000" stroke-width="1" fill="none" />
<path d="M532,580 Q532,576 540,575.5 M540,580 Q540,578 542,578" stroke="#000" stroke-width="1" fill="none" />
<rect x="540" y="575.5" width="73" height="8.799999999999955" fill="#fff"/>
<line x1="540" y1="575.5" x2="613" y2="575.5" stroke="#000" stroke-width="1.1" />
<line x1="540" y1="584.3" x2="613" y2="584.3" stroke="#000" stroke-width="1.1" />
<rect x="565.5" y="571.5" width="5" height="18" stroke="#000" stroke-width="1" fill="#fff" rx="0" />
<line x1="567.5" y1="572.5" x2="567.5" y2="588.5" stroke="#000" stroke-width="0.8" />
<rect x="590.5" y="571.5" width="4" height="18" stroke="#000" stroke-width="1" fill="#fff" rx="0" />
<line x1="592.5" y1="572.5" x2="592.5" y2="588.5" stroke="#000" stroke-width="0.8" />
<path d="M570.515,575.35 Q580.3,571.23 590.0849999999999,575.35 V584.62 Q580.3,588.74 570.515,584.62 Z" stroke="#000" stroke-width="0.9" fill="#eee" />
<path d="M576.6949999999999,580.5 h7 M580.3,580.5 v4.635" stroke="#1ce" stroke-width="2.2660000000000005"/>
<rect x="571.3389999999999" y="564.02" width="17.922" height="7.416" stroke="#000" stroke-width="1.5" fill="#fff" rx="1" />
<line x1="571.3389999999999" y1="567.625" x2="589.261" y2="567.625" stroke="#000" stroke-width="1" />
<rect x="571.3389999999999" y="562.475" width="3.2960000000000003" height="3.09" stroke="#000" stroke-width="0" fill="#000" rx="0" />
<rect x="585.9649999999999" y="562.475" width="3.2960000000000003" height="3.09" stroke="#000" stroke-width="0" fill="#000" rx="0" />
<rect x="574.223" y="550.115" width="12.154000000000002" height="13.905000000000001" stroke="#000" stroke-width="1.1" fill="#fff" rx="2.575" />
<rect x="576.6949999999999" y="551.145" width="7.21" height="3.605" stroke="#000" stroke-width="0" fill="#111" rx="0" />
<rect x="578.24" y="552.175" width="4.12" height="1.545" stroke="#000" stroke-width="0" fill="#fff" rx="0" />
<rect x="576.6949999999999" y="556.81" width="7.21" height="2.575" stroke="#000" stroke-width="0" fill="#111" rx="0" />
<line x1="577.7249999999999" y1="560.415" x2="582.875" y2="560.415" stroke="#000" stroke-width="1.2" />
<line x1="568.2489999999999" y1="546.51" x2="592.351" y2="546.51" stroke="#000" stroke-width="2.472" />
<rect x="577.4159999999999" y="543.935" width="5.768" height="2.575" stroke="#000" stroke-width="0" fill="#222" rx="0" />
<line x1="613" y1="581" x2="626" y2="581" stroke="#000" stroke-width="1.5" />
<path d="M630,581 L624,578.5 L624,583.5Z" fill="none" stroke="#000" stroke-width="0.8"/>
<text x="643" y="584" font-family="Liberation Sans" font-size="6.5" text-anchor="middle" fill="#333" >二次流体</text>
<text x="529" y="551" font-family="Liberation Sans" font-size="8.5" text-anchor="middle" fill="#333" >温度传感器</text>
<line x1="530" y1="553" x2="540" y2="564" stroke="#000" stroke-width="0.7" />
<circle cx="540" cy="566" r="2" stroke="#000" stroke-width="1" fill="#fff"/>
<line x1="540" y1="568" x2="540" y2="575" stroke="#000" stroke-width="1" />
<path d="M584,686 Q591,679 598,686" stroke="#000" stroke-width="1" fill="none" />
<rect x="588" y="686" width="6.5" height="56" fill="#fff"/>
<line x1="588" y1="686" x2="588" y2="742" stroke="#000" stroke-width="1.1" />
<line x1="594.5" y1="686" x2="594.5" y2="742" stroke="#000" stroke-width="1.1" />
<line x1="583" y1="693" x2="599" y2="693" stroke="#000" stroke-width="1.6" />
<line x1="583" y1="741" x2="599" y2="741" stroke="#000" stroke-width="1.6" />
<path d="M588,742 Q588,752.5 598,752.5 M594.5,742 Q594.5,745.7 598,745.7" stroke="#000" stroke-width="1" fill="none" />
<rect x="598" y="745.7" width="78.5" height="6.899999999999977" fill="#fff"/>
<line x1="598" y1="745.7" x2="676.5" y2="745.7" stroke="#000" stroke-width="1.1" />
<line x1="598" y1="752.6" x2="676.5" y2="752.6" stroke="#000" stroke-width="1.1" />
<line x1="600" y1="744" x2="600" y2="754" stroke="#000" stroke-width="2" />
<rect x="617.5" y="738.5" width="5" height="21" stroke="#000" stroke-width="1" fill="#fff" rx="0" />
<line x1="619.5" y1="739.5" x2="619.5" y2="758.5" stroke="#000" stroke-width="0.8" />
<rect x="645.5" y="738.5" width="5" height="21" stroke="#000" stroke-width="1" fill="#fff" rx="0" />
<line x1="647.5" y1="739.5" x2="647.5" y2="758.5" stroke="#000" stroke-width="0.8" />
<path d="M622.885,743.25 Q634,738.57 645.115,743.25 V753.78 Q634,758.46 622.885,753.78 Z" stroke="#000" stroke-width="0.9" fill="#eee" />
<path d="M629.905,749.1 h7 M634,749.1 v5.265" stroke="#1ce" stroke-width="2.574"/>
<rect x="623.821" y="730.38" width="20.357999999999997" height="8.424" stroke="#000" stroke-width="1.5" fill="#fff" rx="1" />
<line x1="623.821" y1="734.475" x2="644.179" y2="734.475" stroke="#000" stroke-width="1" />
<rect x="623.821" y="728.625" width="3.7439999999999998" height="3.51" stroke="#000" stroke-width="0" fill="#000" rx="0" />
<rect x="640.435" y="728.625" width="3.7439999999999998" height="3.51" stroke="#000" stroke-width="0" fill="#000" rx="0" />
<rect x="627.097" y="714.585" width="13.806" height="15.794999999999998" stroke="#000" stroke-width="1.1" fill="#fff" rx="2.925" />
<rect x="629.905" y="715.755" width="8.19" height="4.095" stroke="#000" stroke-width="0" fill="#111" rx="0" />
<rect x="631.66" y="716.9250000000001" width="4.68" height="1.755" stroke="#000" stroke-width="0" fill="#fff" rx="0" />
<rect x="629.905" y="722.19" width="8.19" height="2.925" stroke="#000" stroke-width="0" fill="#111" rx="0" />
<line x1="631.075" y1="726.2850000000001" x2="636.925" y2="726.2850000000001" stroke="#000" stroke-width="1.2" />
<line x1="620.311" y1="710.49" x2="647.689" y2="710.49" stroke="#000" stroke-width="2.808" />
<rect x="630.724" y="707.565" width="6.552" height="2.925" stroke="#000" stroke-width="0" fill="#222" rx="0" />
<line x1="678" y1="749.5" x2="693" y2="749.5" stroke="#000" stroke-width="1.4" />
<path d="M678,749.5 L685,746.5 L685,752.5Z" fill="none" stroke="#000" stroke-width="0.9"/>
<path d="M156,654 V656.5 H263.5 M159,654 H263.5" stroke="#000" stroke-width="1" fill="none" />
<rect x="159" y="653.3" width="104.5" height="3.0" fill="#fff"/>
<line x1="159" y1="653.3" x2="263.5" y2="653.3" stroke="#000" stroke-width="0.9" />
<line x1="159" y1="656.3" x2="263.5" y2="656.3" stroke="#000" stroke-width="0.9" />
<path d="M163,653.5 L175,637.8 H255 Q258.5,637.8 257,641 L248,653.5" stroke="#000" stroke-width="1" fill="none" />
<path d="M159.5,653.5 L172.5,635.4 H257.5 Q261.5,635.6 260,639.5 L251,653.5" stroke="#000" stroke-width="1" fill="none" />
<rect x="169.41" y="650.9359999999999" width="2.5" height="7.727999999999999" stroke="#000" stroke-width="0" fill="#000" rx="0" />
<rect x="179.09" y="650.9359999999999" width="2.5" height="7.727999999999999" stroke="#000" stroke-width="0" fill="#000" rx="0" />
<path d="M171.91,652.91 Q175.5,651.4399999999999 179.09,652.91 V656.4799999999999 Q175.5,658.16 171.91,656.4799999999999 Z" stroke="#000" stroke-width="0.8" fill="#fff" />
<circle cx="175.5" cy="655.43" r="1.3" stroke="#000" stroke-width="0" fill="#1ce"/>
<rect x="171.51" y="647.66" width="7.9799999999999995" height="2.73" stroke="#000" stroke-width="0" fill="#000" rx="0" />
<rect x="172.98" y="642.1999999999999" width="5.04" height="5.67" stroke="#000" stroke-width="1" fill="#fff" rx="0.84" />
<rect x="174.03" y="643.25" width="2.94" height="1.68" stroke="#000" stroke-width="0" fill="#000" rx="0" />
<rect x="174.03" y="645.56" width="2.94" height="1.68" stroke="#000" stroke-width="0" fill="#000" rx="0" />
<rect x="170.67" y="640.0999999999999" width="9.66" height="1.47" stroke="#000" stroke-width="0" fill="#000" rx="0" />
<line x1="175.5" y1="641.5699999999999" x2="175.5" y2="642.1999999999999" stroke="#000" stroke-width="0.84" />
<line x1="175.5" y1="628.8" x2="175.5" y2="640.0999999999999" stroke="#000" stroke-width="1" />
<circle cx="175.5" cy="622.8" r="6" stroke="#000" stroke-width="1" fill="#fff"/>
<text x="175.5" y="625.9319999999999" font-family="Liberation Sans" font-size="8.7" text-anchor="middle" fill="#222" >1</text>
<rect x="230.71" y="650.9359999999999" width="2.5" height="7.727999999999999" stroke="#000" stroke-width="0" fill="#000" rx="0" />
<rect x="240.39000000000001" y="650.9359999999999" width="2.5" height="7.727999999999999" stroke="#000" stroke-width="0" fill="#000" rx="0" />
<path d="M233.21,652.91 Q236.8,651.4399999999999 240.39000000000001,652.91 V656.4799999999999 Q236.8,658.16 233.21,656.4799999999999 Z" stroke="#000" stroke-width="0.8" fill="#fff" />
<circle cx="236.8" cy="655.43" r="1.3" stroke="#000" stroke-width="0" fill="#1ce"/>
<rect x="232.81" y="647.66" width="7.9799999999999995" height="2.73" stroke="#000" stroke-width="0" fill="#000" rx="0" />
<rect x="234.28" y="642.1999999999999" width="5.04" height="5.67" stroke="#000" stroke-width="1" fill="#fff" rx="0.84" />
<rect x="235.33" y="643.25" width="2.94" height="1.68" stroke="#000" stroke-width="0" fill="#000" rx="0" />
<rect x="235.33" y="645.56" width="2.94" height="1.68" stroke="#000" stroke-width="0" fill="#000" rx="0" />
<rect x="231.97" y="640.0999999999999" width="9.66" height="1.47" stroke="#000" stroke-width="0" fill="#000" rx="0" />
<line x1="236.8" y1="641.5699999999999" x2="236.8" y2="642.1999999999999" stroke="#000" stroke-width="0.84" />
<line x1="236.8" y1="628.8" x2="236.8" y2="640.0999999999999" stroke="#000" stroke-width="1" />
<circle cx="236.8" cy="622.8" r="6" stroke="#000" stroke-width="1" fill="#fff"/>
<text x="236.8" y="625.9319999999999" font-family="Liberation Sans" font-size="8.7" text-anchor="middle" fill="#222" >1</text>
<rect x="197.21" y="631.9359999999999" width="2.5" height="7.727999999999999" stroke="#000" stroke-width="0" fill="#000" rx="0" />
<rect x="206.89000000000001" y="631.9359999999999" width="2.5" height="7.727999999999999" stroke="#000" stroke-width="0" fill="#000" rx="0" />
<path d="M199.71,633.91 Q203.3,632.4399999999999 206.89000000000001,633.91 V637.4799999999999 Q203.3,639.16 199.71,637.4799999999999 Z" stroke="#000" stroke-width="0.8" fill="#fff" />
<circle cx="203.3" cy="636.43" r="1.3" stroke="#000" stroke-width="0" fill="#1ce"/>
<rect x="199.31" y="628.66" width="7.9799999999999995" height="2.73" stroke="#000" stroke-width="0" fill="#000" rx="0" />
<rect x="200.78" y="623.1999999999999" width="5.04" height="5.67" stroke="#000" stroke-width="1" fill="#fff" rx="0.84" />
<rect x="201.83" y="624.25" width="2.94" height="1.68" stroke="#000" stroke-width="0" fill="#000" rx="0" />
<rect x="201.83" y="626.56" width="2.94" height="1.68" stroke="#000" stroke-width="0" fill="#000" rx="0" />
<rect x="198.47" y="621.0999999999999" width="9.66" height="1.47" stroke="#000" stroke-width="0" fill="#000" rx="0" />
<line x1="203.3" y1="622.5699999999999" x2="203.3" y2="623.1999999999999" stroke="#000" stroke-width="0.84" />
<circle cx="191.3" cy="622.8" r="6" stroke="#000" stroke-width="1" fill="#fff"/>
<text x="191.3" y="625.9319999999999" font-family="Liberation Sans" font-size="8.7" text-anchor="middle" fill="#222" >2</text>
<line x1="191.3" y1="628.8" x2="191.3" y2="654" stroke="#000" stroke-width="1" />
<circle cx="212" cy="613.5" r="6" stroke="#000" stroke-width="1" fill="#fff"/>
<text x="212" y="616.632" font-family="Liberation Sans" font-size="8.7" text-anchor="middle" fill="#222" >4</text>
<line x1="212" y1="619.5" x2="212" y2="654" stroke="#999" stroke-width="1" />
<circle cx="224.6" cy="613.5" r="6" stroke="#000" stroke-width="1" fill="#fff"/>
<text x="224.6" y="616.632" font-family="Liberation Sans" font-size="8.7" text-anchor="middle" fill="#222" >7</text>
<line x1="224.6" y1="619.5" x2="224.6" y2="654" stroke="#000" stroke-width="1" />
<rect x="184" y="650.5" width="2.2" height="9" stroke="#000" stroke-width="0" fill="#000" rx="0" />
<rect x="189" y="650.5" width="2.2" height="9" stroke="#000" stroke-width="0" fill="#000" rx="0" />
<rect x="197" y="650.5" width="2.2" height="9" stroke="#000" stroke-width="0" fill="#000" rx="0" />
<rect x="207" y="650.5" width="2.2" height="9" stroke="#000" stroke-width="0" fill="#000" rx="0" />
<rect x="210" y="650.5" width="2.2" height="9" stroke="#000" stroke-width="0" fill="#000" rx="0" />
<rect x="215" y="650.5" width="2.2" height="9" stroke="#000" stroke-width="0" fill="#000" rx="0" />
<rect x="219" y="650.5" width="2.2" height="9" stroke="#000" stroke-width="0" fill="#000" rx="0" />
<rect x="222.5" y="650.5" width="2.2" height="9" stroke="#000" stroke-width="0" fill="#000" rx="0" />
<rect x="228" y="650.5" width="2.2" height="9" stroke="#000" stroke-width="0" fill="#000" rx="0" />
<circle cx="191.3" cy="654.8" r="2.5" stroke="#000" stroke-width="1.3" fill="#fff"/>
<line x1="268" y1="655" x2="280" y2="655" stroke="#1ce" stroke-width="1.4" />
<path d="M283,655 L277,652.8 L277,657.2Z" fill="#1ce"/>
<path d="M463.5,743 H270" stroke="#000" stroke-width="1" fill="none" />
<rect x="282.6" y="741.3" width="181.0" height="3.300000000000068" fill="#fff"/>
<line x1="282.6" y1="741.3" x2="463.6" y2="741.3" stroke="#000" stroke-width="0.9" />
<line x1="282.6" y1="744.6" x2="463.6" y2="744.6" stroke="#000" stroke-width="0.9" />
<line x1="269" y1="743" x2="283" y2="743" stroke="#000" stroke-width="2.4" />
<line x1="263" y1="743" x2="270" y2="743" stroke="#1ce" stroke-width="1.5" />
<path d="M261,743 L268,740.5 L268,745.5Z" fill="#1ce"/>
<path d="M300,741.5 L282,716 Q279.5,711.2 285,711.2 H424 Q430,711.2 434,716 L452,741.5" stroke="#000" stroke-width="1" fill="none" />
<path d="M304,741.5 L285.5,717 Q284.5,714.6 287,714.6 H422.5 Q427,714.6 430,718 L448,741.5" stroke="#000" stroke-width="1" fill="none" />
<rect x="306.025" y="736.62" width="3.3800000000000003" height="11.959999999999999" stroke="#000" stroke-width="0" fill="#000" rx="0" />
<rect x="321.495" y="736.62" width="3.3800000000000003" height="11.959999999999999" stroke="#000" stroke-width="0" fill="#000" rx="0" />
<path d="M309.405,739.6750000000001 Q315.45,737.4 321.495,739.6750000000001 V745.2 Q315.45,747.8000000000001 309.405,745.2 Z" stroke="#000" stroke-width="0.8" fill="#fff" />
<circle cx="315.45" cy="743.575" r="1.6900000000000002" stroke="#000" stroke-width="0" fill="#1ce"/>
<rect x="309.275" y="731.5500000000001" width="12.35" height="4.2250000000000005" stroke="#000" stroke-width="0" fill="#000" rx="0" />
<rect x="311.55" y="723.1" width="7.800000000000001" height="8.775" stroke="#000" stroke-width="1" fill="#fff" rx="1.3" />
<rect x="313.175" y="724.725" width="4.55" height="2.6" stroke="#000" stroke-width="0" fill="#000" rx="0" />
<rect x="313.175" y="728.3000000000001" width="4.55" height="2.6" stroke="#000" stroke-width="0" fill="#000" rx="0" />
<rect x="307.97499999999997" y="719.85" width="14.950000000000001" height="2.275" stroke="#000" stroke-width="0" fill="#000" rx="0" />
<line x1="315.45" y1="722.125" x2="315.45" y2="723.1" stroke="#000" stroke-width="1.3" />
<line x1="315.45" y1="708.3" x2="315.45" y2="719.85" stroke="#000" stroke-width="1" />
<circle cx="315.45" cy="702.3" r="6" stroke="#000" stroke-width="1" fill="#fff"/>
<text x="315.45" y="705.4319999999999" font-family="Liberation Sans" font-size="8.7" text-anchor="middle" fill="#222" >1</text>
<rect x="344.97499999999997" y="707.02" width="3.3800000000000003" height="11.959999999999999" stroke="#000" stroke-width="0" fill="#000" rx="0" />
<rect x="360.445" y="707.02" width="3.3800000000000003" height="11.959999999999999" stroke="#000" stroke-width="0" fill="#000" rx="0" />
<path d="M348.35499999999996,710.075 Q354.4,707.8 360.445,710.075 V715.6 Q354.4,718.2 348.35499999999996,715.6 Z" stroke="#000" stroke-width="0.8" fill="#fff" />
<circle cx="354.4" cy="713.975" r="1.6900000000000002" stroke="#000" stroke-width="0" fill="#1ce"/>
<rect x="348.22499999999997" y="701.95" width="12.35" height="4.2250000000000005" stroke="#000" stroke-width="0" fill="#000" rx="0" />
<rect x="350.5" y="693.5" width="7.800000000000001" height="8.775" stroke="#000" stroke-width="1" fill="#fff" rx="1.3" />
<rect x="352.125" y="695.125" width="4.55" height="2.6" stroke="#000" stroke-width="0" fill="#000" rx="0" />
<rect x="352.125" y="698.7" width="4.55" height="2.6" stroke="#000" stroke-width="0" fill="#000" rx="0" />
<rect x="346.92499999999995" y="690.25" width="14.950000000000001" height="2.275" stroke="#000" stroke-width="0" fill="#000" rx="0" />
<line x1="354.4" y1="692.525" x2="354.4" y2="693.5" stroke="#000" stroke-width="1.3" />
<rect x="405.97499999999997" y="736.62" width="3.3800000000000003" height="11.959999999999999" stroke="#000" stroke-width="0" fill="#000" rx="0" />
<rect x="421.445" y="736.62" width="3.3800000000000003" height="11.959999999999999" stroke="#000" stroke-width="0" fill="#000" rx="0" />
<path d="M409.35499999999996,739.6750000000001 Q415.4,737.4 421.445,739.6750000000001 V745.2 Q415.4,747.8000000000001 409.35499999999996,745.2 Z" stroke="#000" stroke-width="0.8" fill="#fff" />
<circle cx="415.4" cy="743.575" r="1.6900000000000002" stroke="#000" stroke-width="0" fill="#1ce"/>
<rect x="409.22499999999997" y="731.5500000000001" width="12.35" height="4.2250000000000005" stroke="#000" stroke-width="0" fill="#000" rx="0" />
<rect x="411.5" y="723.1" width="7.800000000000001" height="8.775" stroke="#000" stroke-width="1" fill="#fff" rx="1.3" />
<rect x="413.125" y="724.725" width="4.55" height="2.6" stroke="#000" stroke-width="0" fill="#000" rx="0" />
<rect x="413.125" y="728.3000000000001" width="4.55" height="2.6" stroke="#000" stroke-width="0" fill="#000" rx="0" />
<rect x="407.92499999999995" y="719.85" width="14.950000000000001" height="2.275" stroke="#000" stroke-width="0" fill="#000" rx="0" />
<line x1="415.4" y1="722.125" x2="415.4" y2="723.1" stroke="#000" stroke-width="1.3" />
<line x1="415.4" y1="708.3" x2="415.4" y2="719.85" stroke="#000" stroke-width="1" />
<circle cx="415.4" cy="702.3" r="6" stroke="#000" stroke-width="1" fill="#fff"/>
<text x="415.4" y="705.4319999999999" font-family="Liberation Sans" font-size="8.7" text-anchor="middle" fill="#222" >1</text>
<rect x="329.2" y="736.3" width="3" height="12.2" stroke="#000" stroke-width="0" fill="#000" rx="0" />
<rect x="332.5" y="736.5" width="12" height="11.5" stroke="#000" stroke-width="1" fill="#fff" rx="0" />
<line x1="332.5" y1="739.5" x2="344.5" y2="739.5" stroke="#000" stroke-width="1" />
<path d="M333,736.5 V732.5 H335 V734 H337 V732.5 H339 V734 H341 V732.5 H343 V736.5" stroke="#000" stroke-width="1" fill="#000" />
<circle cx="338.5" cy="743" r="1.8" stroke="#000" stroke-width="0" fill="#1ce"/>
<rect x="345" y="736.5" width="2.4" height="12" stroke="#000" stroke-width="0" fill="#000" rx="0" />
<circle cx="337.5" cy="681.4" r="6" stroke="#000" stroke-width="1" fill="#fff"/>
<text x="337.5" y="684.5319999999999" font-family="Liberation Sans" font-size="8.7" text-anchor="middle" fill="#222" >7</text>
<line x1="337.7" y1="687.4" x2="337.7" y2="731" stroke="#000" stroke-width="0.9" />
<rect x="345.5" y="736" width="2.5" height="12" stroke="#000" stroke-width="0.8" fill="#fff" rx="0" />
<rect x="353" y="736" width="2.5" height="12" stroke="#000" stroke-width="0.8" fill="#fff" rx="0" />
<rect x="361" y="735" width="13" height="13" stroke="#000" stroke-width="1" fill="#fff" rx="3" />
<rect x="360" y="737" width="15" height="3" stroke="#000" stroke-width="0" fill="#000" rx="0" />
<circle cx="367.5" cy="744" r="2" stroke="#000" stroke-width="0" fill="#1ce"/>
<path d="M361,746 V752 H370" stroke="#000" stroke-width="1" fill="none" />
<circle cx="367" cy="681.4" r="6" stroke="#000" stroke-width="1" fill="#fff"/>
<text x="367" y="684.5319999999999" font-family="Liberation Sans" font-size="8.7" text-anchor="middle" fill="#222" >4</text>
<line x1="367" y1="687.4" x2="367" y2="735" stroke="#000" stroke-width="0.9" />
<rect x="378.5" y="736" width="2.5" height="12" stroke="#000" stroke-width="0.8" fill="#fff" rx="0" />
<rect x="384.5" y="736" width="2.5" height="12" stroke="#000" stroke-width="0.8" fill="#fff" rx="0" />
<circle cx="392.4" cy="743" r="4.6" stroke="#000" stroke-width="1.8" fill="#fff"/>
<circle cx="392.4" cy="743" r="2" stroke="#000" stroke-width="0" fill="#000"/>
<rect x="400" y="736" width="2.5" height="12" stroke="#000" stroke-width="0.8" fill="#fff" rx="0" />
<circle cx="392.4" cy="701.8" r="6" stroke="#000" stroke-width="1" fill="#fff"/>
<text x="392.4" y="704.9319999999999" font-family="Liberation Sans" font-size="8.7" text-anchor="middle" fill="#222" >2</text>
<line x1="392.4" y1="707.8" x2="392.4" y2="738.5" stroke="#000" stroke-width="0.9" />
<circle cx="53.6" cy="769" r="7.6" stroke="#000" stroke-width="1.4" fill="none"/>
<text x="53.6" y="773.6" font-family="Liberation Serif" font-size="13.5" text-anchor="middle" fill="#000" stroke="#000" stroke-width="0.6">1</text>
<text x="65.9" y="775.3" font-family="Liberation Serif" font-size="16" fill="#000" stroke="#000" stroke-width="0.3">Way's</text>
<text x="107.10000000000001" y="775.3" font-family="Liberation Serif" font-size="16.5" textLength="83.69999999999999" lengthAdjust="spacing" fill="#383838">汽水分离器</text>
<circle cx="254.29999999999998" cy="769.5" r="7.6" stroke="#000" stroke-width="1" fill="none"/>
<text x="254.29999999999998" y="774.1" font-family="Liberation Serif" font-size="13.5" text-anchor="middle" fill="#000" stroke="#000" stroke-width="0.2">2</text>
<text x="268" y="775.8" font-family="Liberation Serif" font-size="16" fill="#000" stroke="#000" stroke-width="0.3">Way's</text>
<text x="310.59999999999997" y="775.8" font-family="Liberation Serif" font-size="16.5" textLength="100.10000000000004" lengthAdjust="spacing" fill="#383838">波纹管截止阀</text>
<circle cx="456.3" cy="769.3" r="7.6" stroke="#000" stroke-width="1" fill="none"/>
<text x="456.3" y="773.9" font-family="Liberation Serif" font-size="13.5" text-anchor="middle" fill="#000" stroke="#000" stroke-width="0.2">3</text>
<text x="466.1" y="775.5999999999999" font-family="Liberation Serif" font-size="16" fill="#000" stroke="#000" stroke-width="0.3">Way's</text>
<text x="508.2" y="775.5999999999999" font-family="Liberation Serif" font-size="16.5" textLength="48.699999999999946" lengthAdjust="spacing" fill="#383838">过滤器</text>
<circle cx="620.6" cy="769" r="7.6" stroke="#000" stroke-width="1" fill="none"/>
<text x="620.6" y="773.6" font-family="Liberation Serif" font-size="13.5" text-anchor="middle" fill="#000" stroke="#000" stroke-width="0.2">4</text>
<text x="635" y="775.3" font-family="Liberation Serif" font-size="16" fill="#000" stroke="#000" stroke-width="0.3">Way's</text>
<text x="676.1999999999999" y="775.3" font-family="Liberation Serif" font-size="16.5" textLength="101.6000000000001" lengthAdjust="spacing" fill="#383838">浮球式疏水阀</text>
<circle cx="52.6" cy="796" r="7.6" stroke="#3333ff" stroke-width="1" fill="none"/>
<text x="52.6" y="800.6" font-family="Liberation Serif" font-size="13.5" text-anchor="middle" fill="#3333ff" stroke="#3333ff" stroke-width="0.2">5</text>
<text x="61.9" y="802.3" font-family="Liberation Serif" font-size="16" fill="#3333ff" stroke="#3333ff" stroke-width="0.3">Way's</text>
<text x="102.80000000000001" y="802.3" font-family="Liberation Serif" font-size="16.5" textLength="128.1" lengthAdjust="spacing" fill="#4848ff">气动波纹管截止阀</text>
<circle cx="262.1" cy="796" r="7.6" stroke="#3333ff" stroke-width="1" fill="none"/>
<text x="262.1" y="800.6" font-family="Liberation Serif" font-size="13.5" text-anchor="middle" fill="#3333ff" stroke="#3333ff" stroke-width="0.2">6</text>
<text x="275.4" y="802.3" font-family="Liberation Serif" font-size="16" fill="#3333ff" stroke="#3333ff" stroke-width="0.3">Way's</text>
<text x="315.7" y="802.3" font-family="Liberation Serif" font-size="16.5" textLength="158.79999999999995" lengthAdjust="spacing" fill="#4848ff">波纹管密封气动控制阀</text>
<circle cx="523.9" cy="796.4" r="7.6" stroke="#000" stroke-width="1" fill="none"/>
<text x="523.9" y="801.0" font-family="Liberation Serif" font-size="13.5" text-anchor="middle" fill="#000" stroke="#000" stroke-width="0.2">7</text>
<text x="532.9" y="802.6999999999999" font-family="Liberation Serif" font-size="16" fill="#000" stroke="#000" stroke-width="0.3">Way's</text>
<text x="574.0" y="802.6999999999999" font-family="Liberation Serif" font-size="16.5" textLength="47.399999999999935" lengthAdjust="spacing" fill="#383838">止回阀</text></svg>
</body></html>
